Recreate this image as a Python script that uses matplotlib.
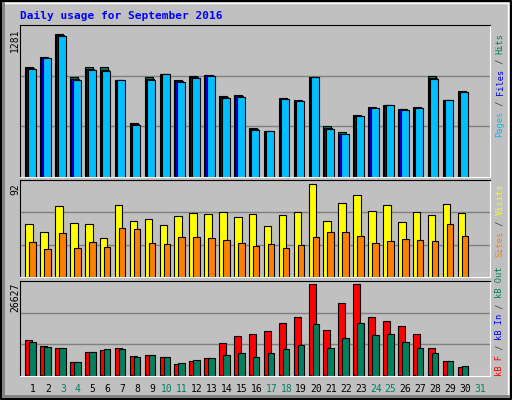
import numpy as np
import matplotlib
matplotlib.use("Agg")
import matplotlib.pyplot as plt

days = np.arange(1, 31)
day_labels = [str(d) for d in range(1, 32)]
weekend = [3, 4, 10, 11, 17, 18, 24, 25, 31]

hits = [957, 1044, 1237, 869, 951, 951, 838, 465, 864, 896, 838, 873, 882, 703, 709, 427, 401, 688, 671, 871, 442, 390, 541, 607, 625, 590, 607, 873, 671, 749]
files = [948, 1035, 1228, 851, 939, 930, 838, 456, 851, 896, 830, 865, 882, 691, 700, 418, 401, 680, 662, 871, 427, 375, 529, 598, 625, 590, 598, 856, 671, 741]
pages = [940, 1030, 1220, 845, 930, 920, 838, 450, 845, 890, 825, 860, 878, 685, 695, 410, 400, 675, 655, 868, 420, 370, 525, 595, 620, 585, 595, 850, 665, 735]
visits = [53, 45, 70, 54, 53, 39, 71, 56, 58, 52, 61, 64, 63, 65, 60, 63, 51, 62, 65, 92, 56, 73, 81, 66, 71, 55, 65, 62, 72, 64]
sites = [35, 28, 44, 29, 35, 30, 49, 48, 34, 33, 40, 40, 39, 37, 34, 31, 33, 29, 32, 40, 45, 45, 41, 34, 36, 38, 37, 36, 53, 41]
kb_f = [10534, 8779, 8193, 4096, 7022, 7607, 8193, 5852, 6145, 5560, 3511, 4389, 5267, 9656, 11705, 12290, 13168, 15509, 17264, 26627, 13461, 21067, 26627, 17264, 16094, 14631, 12290, 8193, 4389, 2633]
kb_in = [200] * 30
kb_out = [9949, 8486, 8193, 4096, 7022, 7900, 7900, 5560, 6145, 5560, 3804, 4681, 5267, 6145, 6730, 5560, 6730, 7900, 9071, 15216, 8193, 11119, 15509, 12022, 12290, 9949, 8193, 6730, 4389, 2926]

W, H = 512, 400
BG = "#C0C0C0"
px = 1 / 14.9  # one pixel in day units

fig = plt.figure(figsize=(W / 100, H / 100), dpi=100, facecolor=BG)
mono = "DejaVu Sans Mono"


def box(x0, y0, x1, y1):
    return [x0 / W, 1 - y1 / H, (x1 - x0) / W, (y1 - y0) / H]


def panel(y0, y1, top):
    ax = fig.add_axes(box(20, y0, 490, y1))
    ax.set_facecolor(BG)
    ax.set_xlim(0.13, 31.67)
    ax.set_ylim(0, top)
    for t in (top / 3, 2 * top / 3):
        ax.axhline(t, color="#808080", lw=1, zorder=0)
    ax.set_xticks([])
    ax.set_yticks([])
    ax.spines["top"].set_color("black")
    ax.spines["left"].set_color("black")
    ax.spines["bottom"].set_color("white")
    ax.spines["right"].set_color("white")
    return ax


def bars(ax, vals, off, width, color):
    ax.bar(days + off * px, vals, width=width * px, align="edge",
           color=color, edgecolor="black", linewidth=0.8)


ax1 = panel(25, 177, 1318)
bars(ax1, hits, -7.5, 8, "#00805F")
bars(ax1, files, -6.5, 8, "#0000FF")
bars(ax1, pages, -5, 8, "#00BFFF")

ax2 = panel(180, 277, 96.3)
bars(ax2, visits, -7.5, 7.5, "#FFFF00")
bars(ax2, sites, -3.5, 6.5, "#FF8000")

ax3 = panel(281, 376, 27590)
bars(ax3, kb_f, -7.5, 7, "#FF0000")
bars(ax3, kb_in, -7, 1.5, "#0000FF")
bars(ax3, kb_out, -3.5, 6.5, "#00805F")

fig.text(20 / W, 1 - 16 / H, "Daily usage for September 2016", color="#0000FF",
         family=mono, fontsize=8, fontweight="bold", va="center")

for txt, ytop in (("1281", 28), ("92", 183), ("26627", 283)):
    fig.text(15 / W, 1 - ytop / H, txt, rotation=90, family=mono, fontsize=7,
             ha="center", va="top")


# right side legends, drawn piece by piece from bottom
def legend(parts, ybottom):
    y = ybottom
    for txt, col in parts:
        fig.text(500 / W, 1 - y / H, txt, rotation=90, family=mono, fontsize=6.2,
                 color=col, ha="center", va="bottom")
        y -= 5.2 * len(txt)


legend([("Pages", "#00BFFF"), (" / ", "#404040"), ("Files", "#0000FF"),
        (" / ", "#404040"), ("Hits", "#00805F")], 137)
legend([("Sites", "#FF8000"), (" / ", "#404040"), ("Visits", "#FFFF00")], 257)
legend([("kB F", "#FF0000"), (" / ", "#404040"), ("kB In", "#0000FF"),
        (" / ", "#404040"), ("kB Out", "#00805F")], 376)

for i, lab in enumerate(day_labels):
    x = 33 + 14.9 * i
    col = "#00805F" if (i + 1) in weekend else "black"
    fig.text(x / W, 1 - 389 / H, lab, family=mono, fontsize=7, color=col,
             ha="center", va="center")

# outer 3D frame
frame = fig.add_axes([0, 0, 1, 1], facecolor="none")
frame.set_xlim(0, W)
frame.set_ylim(H, 0)
frame.axis("off")
frame.plot([1, W - 1, W - 1, 1, 1], [1, 1, H - 1, H - 1, 1], color="black", lw=1.5)
frame.plot([3, W - 4, W - 4], [3, 3, H - 4], color="white", lw=1)
frame.plot([3, 3, W - 4], [3, H - 4, H - 4], color="#808080", lw=2)

fig.savefig("out.png", dpi=100, facecolor=BG)
